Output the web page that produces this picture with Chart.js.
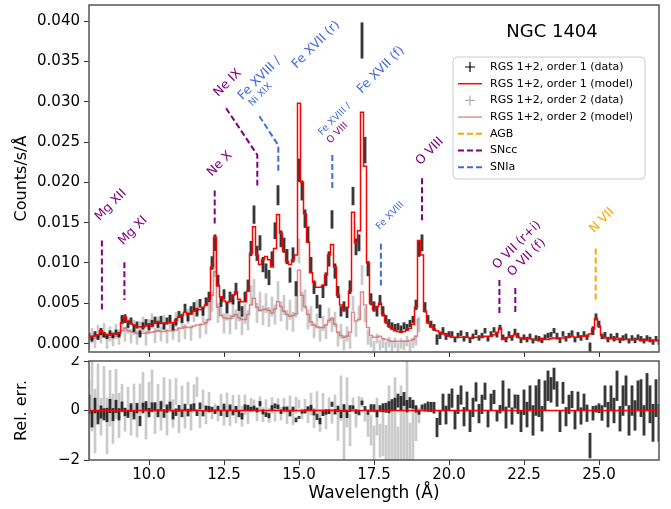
<!DOCTYPE html>
<html>
<head>
<meta charset="utf-8">
<script src="https://cdn.jsdelivr.net/npm/chart.js@4.4.1/dist/chart.umd.min.js"></script>
<style>
  body { margin: 0; background: #fff; }
  #wrap { position: relative; width: 671px; height: 509px; }
  canvas { position: absolute; left: 0; }
</style>
</head>
<body>
<div id="wrap">
  <canvas id="spec" width="671" height="358" style="top:0;width:671px;height:358px"></canvas>
  <canvas id="resid" width="671" height="153" style="top:356px;width:671px;height:153px"></canvas>
</div>
<script>
// RGS spectrum of NGC 1404, bins of 0.1 A starting at 8.0 A
const waveStart = 8.0;
const waveStep = 0.1;

// order 1 model (counts/s/A)
const model1 = [
  0.0008, 0.0009, 0.0010, 0.0011, 0.0016, 0.0013, 0.0011, 0.0011, 0.0012, 0.0012,
  0.0013, 0.0026, 0.0033, 0.0028, 0.0025, 0.0023, 0.0021, 0.0021, 0.0020, 0.0022,
  0.0023, 0.0022, 0.0025, 0.0027, 0.0025, 0.0025, 0.0026, 0.0026, 0.0026, 0.0029,
  0.0033, 0.0035, 0.0039, 0.0036, 0.0037, 0.0040, 0.0043, 0.0042, 0.0045, 0.0048,
  0.0055, 0.0095, 0.0132, 0.0072, 0.0058, 0.0053, 0.0051, 0.0052, 0.0060, 0.0064,
  0.0055, 0.0052, 0.0052, 0.0065, 0.0112, 0.0145, 0.0110, 0.0098, 0.0104, 0.0108,
  0.0104, 0.0095, 0.0118, 0.0160, 0.0137, 0.0115, 0.0102, 0.0098, 0.0104, 0.0110,
  0.0298, 0.0200, 0.0161, 0.0126, 0.0088, 0.0076, 0.0070, 0.0070, 0.0072, 0.0085,
  0.0110, 0.0123, 0.0095, 0.0060, 0.0048, 0.0042, 0.0045, 0.0065, 0.0163, 0.0125,
  0.0140, 0.0287, 0.0220, 0.0100, 0.0050, 0.0042, 0.0046, 0.0050, 0.0036, 0.0027,
  0.0022, 0.0018, 0.0016, 0.0015, 0.0014, 0.0015, 0.0017, 0.0019, 0.0024, 0.0045,
  0.0128, 0.0110, 0.0040, 0.0026, 0.0021, 0.0018, 0.0016, 0.0014, 0.0012, 0.0011,
  0.0009, 0.0008, 0.0008, 0.0008, 0.0008, 0.0008, 0.0008, 0.0007, 0.0008, 0.0008,
  0.0008, 0.0008, 0.0009, 0.0009, 0.0009, 0.0011, 0.0014, 0.0019, 0.0005, 0.0007,
  0.0008, 0.0009, 0.0011, 0.0008, 0.0007, 0.0006, 0.0006, 0.0006, 0.0005, 0.0005,
  0.0004, 0.0006, 0.0005, 0.0005, 0.0006, 0.0007, 0.0006, 0.0007, 0.0007, 0.0008,
  0.0008, 0.0009, 0.0008, 0.0008, 0.0009, 0.0009, 0.0009, 0.0012, 0.0018, 0.0031,
  0.0022, 0.0010, 0.0007, 0.0006, 0.0006, 0.0006, 0.0005, 0.0006, 0.0005, 0.0005,
  0.0005, 0.0005, 0.0005, 0.0005, 0.0004, 0.0005, 0.0004, 0.0004, 0.0004, 0.0004, 0.0004
];

// order 1 data and 1-sigma errors
const data1 = [
  0.0010, 0.0006, 0.0012, 0.0008, 0.0015, 0.0011, 0.0009, 0.0013, 0.0010, 0.0014,
  0.0011, 0.0030, 0.0031, 0.0024, 0.0028, 0.0019, 0.0023, 0.0012, 0.0022, 0.0026,
  0.0021, 0.0025, 0.0029, 0.0024, 0.0030, 0.0022, 0.0028, 0.0031, 0.0021, 0.0027,
  0.0036, 0.0031, 0.0044, 0.0033, 0.0041, 0.0046, 0.0039, 0.0050, 0.0040, 0.0052,
  0.0058, 0.0100, 0.0125, 0.0078, 0.0052, 0.0061, 0.0044, 0.0058, 0.0055, 0.0068,
  0.0047, 0.0040, 0.0058, 0.0072, 0.0118, 0.0160, 0.0112, 0.0125, 0.0098, 0.0090,
  0.0082, 0.0105, 0.0140, 0.0184, 0.0130, 0.0122, 0.0108, 0.0085, 0.0110, 0.0068,
  0.0215, 0.0190, 0.0155, 0.0135, 0.0098, 0.0070, 0.0052, 0.0040, 0.0065, 0.0080,
  0.0105, 0.0154, 0.0090, 0.0064, 0.0040, 0.0046, 0.0038, 0.0070, 0.0183, 0.0120,
  0.0125, 0.0376, 0.0240, 0.0093, 0.0055, 0.0046, 0.0040, 0.0054, 0.0040, 0.0030,
  0.0025, 0.0022, 0.0020, 0.0021, 0.0018, 0.0022, 0.0020, 0.0025, 0.0030, 0.0048,
  0.0118, 0.0125, 0.0045, 0.0030, 0.0024, 0.0020, 0.0005, 0.0010, 0.0016, 0.0009,
  0.0012, 0.0012, 0.0005, 0.0010, 0.0013, 0.0006, 0.0011, 0.0004, 0.0009, 0.0014,
  0.0007, 0.0010, 0.0016, 0.0006, 0.0012, 0.0017, 0.0011, 0.0020, 0.0008, 0.0005,
  0.0012, 0.0007, 0.0015, 0.0010, 0.0004, 0.0008, 0.0005, 0.0009, 0.0003, 0.0007,
  0.0006, 0.0004, 0.0008, 0.0010, 0.0011, 0.0016, 0.0010, 0.0004, 0.0012, 0.0006,
  0.0010, 0.0013, 0.0005, 0.0011, 0.0007, 0.0012, 0.0008, -0.0005, 0.0016, 0.0033,
  0.0024, 0.0009, 0.0011, 0.0005, 0.0009, 0.0006, 0.0010, 0.0004, 0.0007, 0.0009,
  0.0003, 0.0007, 0.0004, 0.0008, 0.0006, 0.0003, 0.0007, 0.0005, 0.0002, 0.0006, 0.0002
];
const err1 = [
  0.0003, 0.0003, 0.0003, 0.0003, 0.0004, 0.0003, 0.0003, 0.0003, 0.0003, 0.0003,
  0.0003, 0.0005, 0.0005, 0.0004, 0.0004, 0.0004, 0.0004, 0.0004, 0.0004, 0.0004,
  0.0004, 0.0004, 0.0004, 0.0004, 0.0004, 0.0004, 0.0004, 0.0004, 0.0004, 0.0004,
  0.0004, 0.0005, 0.0005, 0.0005, 0.0005, 0.0005, 0.0005, 0.0005, 0.0005, 0.0005,
  0.0006, 0.0008, 0.0010, 0.0007, 0.0006, 0.0006, 0.0006, 0.0006, 0.0006, 0.0007,
  0.0006, 0.0006, 0.0006, 0.0007, 0.0009, 0.0011, 0.0009, 0.0009, 0.0009, 0.0009,
  0.0009, 0.0009, 0.0010, 0.0012, 0.0010, 0.0009, 0.0009, 0.0009, 0.0009, 0.0009,
  0.0014, 0.0012, 0.0011, 0.0010, 0.0009, 0.0008, 0.0008, 0.0008, 0.0008, 0.0008,
  0.0009, 0.0011, 0.0009, 0.0007, 0.0006, 0.0006, 0.0006, 0.0008, 0.0011, 0.0010,
  0.0010, 0.0022, 0.0016, 0.0009, 0.0007, 0.0006, 0.0006, 0.0006, 0.0006, 0.0005,
  0.0005, 0.0004, 0.0004, 0.0004, 0.0004, 0.0004, 0.0004, 0.0004, 0.0004, 0.0006,
  0.0010, 0.0010, 0.0006, 0.0005, 0.0004, 0.0004, 0.0006, 0.0004, 0.0004, 0.0004,
  0.0003, 0.0003, 0.0003, 0.0003, 0.0003, 0.0003, 0.0003, 0.0003, 0.0003, 0.0003,
  0.0003, 0.0003, 0.0003, 0.0003, 0.0003, 0.0003, 0.0003, 0.0003, 0.0003, 0.0003,
  0.0003, 0.0003, 0.0003, 0.0003, 0.0003, 0.0003, 0.0003, 0.0003, 0.0003, 0.0003,
  0.0003, 0.0003, 0.0003, 0.0003, 0.0003, 0.0003, 0.0003, 0.0003, 0.0003, 0.0003,
  0.0003, 0.0003, 0.0003, 0.0003, 0.0003, 0.0003, 0.0003, 0.0006, 0.0005, 0.0004,
  0.0004, 0.0003, 0.0003, 0.0003, 0.0003, 0.0003, 0.0003, 0.0003, 0.0003, 0.0003,
  0.0003, 0.0003, 0.0003, 0.0003, 0.0003, 0.0003, 0.0003, 0.0003, 0.0003, 0.0003, 0.0003
];

// order 2 (8.0 - 19.0 A)
const model2 = [
  0.0005, 0.0006, 0.0007, 0.0008, 0.0012, 0.0009, 0.0008, 0.0008, 0.0009, 0.0009,
  0.0010, 0.0016, 0.0019, 0.0016, 0.0015, 0.0014, 0.0013, 0.0013, 0.0013, 0.0013,
  0.0014, 0.0014, 0.0015, 0.0016, 0.0015, 0.0015, 0.0016, 0.0016, 0.0016, 0.0017,
  0.0019, 0.0019, 0.0021, 0.0020, 0.0020, 0.0022, 0.0023, 0.0023, 0.0024, 0.0026,
  0.0030, 0.0060, 0.0089, 0.0045, 0.0035, 0.0032, 0.0031, 0.0031, 0.0034, 0.0036,
  0.0032, 0.0030, 0.0030, 0.0036, 0.0048, 0.0056, 0.0045, 0.0041, 0.0042, 0.0043,
  0.0041, 0.0038, 0.0043, 0.0052, 0.0046, 0.0040, 0.0036, 0.0034, 0.0035, 0.0037,
  0.0091, 0.0060, 0.0046, 0.0036, 0.0027, 0.0023, 0.0021, 0.0020, 0.0020, 0.0023,
  0.0029, 0.0031, 0.0024, 0.0014, 0.0010, 0.0008, 0.0009, 0.0014, 0.0039, 0.0028,
  0.0030, 0.0064, 0.0048, 0.0020, 0.0010, 0.0008, 0.0008, 0.0009, 0.0006, 0.0005,
  0.0004, 0.0003, 0.0003, 0.0003, 0.0003, 0.0003, 0.0003, 0.0004, 0.0005, 0.0009, 0.0030
];
const data2 = [
  0.0002, 0.0010, 0.0004, 0.0014, 0.0009, 0.0016, 0.0003, 0.0012, 0.0006, 0.0015,
  0.0008, 0.0024, 0.0012, 0.0022, 0.0009, 0.0020, 0.0008, 0.0018, 0.0024, 0.0007,
  0.0021, 0.0028, 0.0010, 0.0024, 0.0012, 0.0026, 0.0009, 0.0027, 0.0014, 0.0030,
  0.0011, 0.0029, 0.0015, 0.0034, 0.0013, 0.0036, 0.0045, 0.0016, 0.0035, 0.0021,
  0.0040, 0.0052, 0.0098, 0.0038, 0.0046, 0.0025, 0.0041, 0.0024, 0.0043, 0.0030,
  0.0040, 0.0023, 0.0037, 0.0029, 0.0060, 0.0068, 0.0038, 0.0052, 0.0035, 0.0050,
  0.0033, 0.0046, 0.0036, 0.0065, 0.0040, 0.0048, 0.0029, 0.0042, 0.0027, 0.0045,
  0.0115, 0.0052, 0.0055, 0.0030, 0.0034, 0.0016, 0.0028, 0.0012, 0.0025, 0.0015,
  0.0035, 0.0024, 0.0030, 0.0006, 0.0015, 0.0001, 0.0012, 0.0003, 0.0050, 0.0018,
  0.0038, 0.0085, 0.0036, 0.0008, 0.0002, -0.0003, 0.0006, -0.0002, 0.0001, -0.0004,
  0.0002, -0.0003, 0.0001, -0.0005, 0.0000, -0.0002, 0.0003, -0.0004, 0.0001, 0.0004, 0.0024
];
const err2 = [
  0.0009, 0.0009, 0.0009, 0.0009, 0.0009, 0.0009, 0.0009, 0.0009, 0.0009, 0.0009,
  0.0009, 0.0009, 0.0009, 0.0009, 0.0009, 0.0009, 0.0009, 0.0009, 0.0009, 0.0009,
  0.0009, 0.0009, 0.0009, 0.0009, 0.0009, 0.0009, 0.0009, 0.0009, 0.0009, 0.0009,
  0.0009, 0.0009, 0.0009, 0.0009, 0.0009, 0.0009, 0.0009, 0.0009, 0.0009, 0.0009,
  0.0012, 0.0012, 0.0015, 0.0012, 0.0012, 0.0012, 0.0012, 0.0012, 0.0012, 0.0012,
  0.0012, 0.0012, 0.0012, 0.0012, 0.0012, 0.0012, 0.0012, 0.0012, 0.0012, 0.0012,
  0.0012, 0.0012, 0.0012, 0.0012, 0.0012, 0.0012, 0.0012, 0.0012, 0.0012, 0.0012,
  0.0015, 0.0012, 0.0012, 0.0012, 0.0012, 0.0009, 0.0009, 0.0009, 0.0009, 0.0009,
  0.0009, 0.0009, 0.0009, 0.0009, 0.0009, 0.0009, 0.0009, 0.0009, 0.0009, 0.0009,
  0.0009, 0.0012, 0.0009, 0.0009, 0.0006, 0.0006, 0.0006, 0.0006, 0.0006, 0.0006,
  0.0006, 0.0006, 0.0006, 0.0006, 0.0006, 0.0006, 0.0006, 0.0006, 0.0006, 0.0006, 0.0009
];

// line identifications
const markerWave = [8.43, 9.18, 12.19, 13.61, 14.31, 16.11, 17.73, 19.10, 21.68, 22.21, 24.89];
const markerLow  = [0.0041, 0.0054, 0.0149, 0.0196, 0.0213, 0.0192, 0.0072, 0.0153, 0.0037, 0.0037, 0.0054];
const markerHigh = [0.0128, 0.0101, 0.0190, 0.0234, 0.0246, 0.0234, 0.0124, 0.0205, 0.0079, 0.0069, 0.0118];
const markerKind = ['SNcc', 'SNcc', 'SNcc', 'SNcc', 'SNIa', 'SNIa', 'SNIa', 'SNcc', 'SNcc', 'SNcc', 'AGB'];
// leader lines from shifted labels (Ne IX, Fe XVIII / Ni XIX)
const leaderOf   = [3, 4];
const leaderWave = [12.57, 13.68];
const leaderTop  = [0.0292, 0.0282];

const lineLabels = [
  { text: 'Mg XII', wave: 8.35, y: 0.0152, kind: 'SNcc', small: false },
  { text: 'Mg XI', wave: 9.13, y: 0.0122, kind: 'SNcc', small: false },
  { text: 'Ne X', wave: 12.09, y: 0.0207, kind: 'SNcc', small: false },
  { text: 'Ne IX', wave: 12.31, y: 0.0306, kind: 'SNcc', small: false },
  { text: 'Fe XVIII /', wave: 13.12, y: 0.0302, kind: 'SNIa', small: false },
  { text: 'Ni XIX', wave: 13.44, y: 0.0294, kind: 'SNIa', small: true },
  { text: 'Fe XVII (r)', wave: 14.92, y: 0.0341, kind: 'SNIa', small: false },
  { text: 'Fe XVIII /', wave: 15.76, y: 0.0258, kind: 'SNIa', small: true },
  { text: 'O VIII', wave: 16.04, y: 0.0248, kind: 'SNcc', small: true },
  { text: 'Fe XVII (f)', wave: 17.09, y: 0.0310, kind: 'SNIa', small: false },
  { text: 'Fe XVIII', wave: 17.68, y: 0.0141, kind: 'SNIa', small: true },
  { text: 'O VIII', wave: 19.04, y: 0.0221, kind: 'SNcc', small: false },
  { text: 'O VII (r+i)', wave: 21.60, y: 0.0092, kind: 'SNcc', small: false },
  { text: 'O VII (f)', wave: 22.10, y: 0.0083, kind: 'SNcc', small: false },
  { text: 'N VII', wave: 24.83, y: 0.0137, kind: 'AGB', small: false }
];

const xTicks = [10.0, 12.5, 15.0, 17.5, 20.0, 22.5, 25.0];

const kindColor = { AGB: '#ffa500', SNcc: '#800080', SNIa: '#4169e1' };
const FONT = 'DejaVu Sans';
Chart.defaults.font.family = FONT;
Chart.defaults.color = '#000';

const wave1 = model1.map((_, i) => +(waveStart + i * waveStep).toFixed(1));
const wave2 = model2.map((_, i) => +(waveStart + i * waveStep).toFixed(1));

function errorBars(waves, vals, errs) {
  return vals.map((v, i) => ({ x: waves[i], y: [v - errs[i], v + errs[i]] }));
}
function points(waves, vals) {
  return vals.map((v, i) => ({ x: waves[i], y: v }));
}

// relative residuals (data - model) / model
const res1 = data1.map((d, i) => (d - model1[i]) / model1[i]);
const resErr1 = err1.map((e, i) => e / model1[i]);
const res2 = data2.map((d, i) => (d - model2[i]) / model2[i]);
const resErr2 = err2.map((e, i) => e / model2[i]);

const framePlugin = {
  id: 'frame',
  afterDatasetsDraw(chart) {
    const { ctx, chartArea: a } = chart;
    ctx.save();
    ctx.strokeStyle = '#555';
    ctx.lineWidth = 1.5;
    ctx.strokeRect(a.left, a.top, a.width, a.height);
    ctx.restore();
  }
};

const labelPlugin = {
  id: 'lineLabels',
  afterDatasetsDraw(chart) {
    const { ctx, scales } = chart;
    ctx.save();
    lineLabels.forEach(l => {
      const px = scales.x.getPixelForValue(l.wave);
      const py = scales.y.getPixelForValue(l.y);
      ctx.save();
      ctx.translate(px, py);
      ctx.rotate(-Math.PI / 4);
      ctx.font = (l.small ? 9.5 : 12.5) + 'px ' + FONT;
      ctx.fillStyle = kindColor[l.kind];
      ctx.textAlign = 'left';
      ctx.textBaseline = 'alphabetic';
      ctx.fillText(l.text, 0, 0);
      ctx.restore();
    });
    ctx.restore();
  }
};

const legendItems = [
  { text: 'RGS 1+2, order 1 (data)', type: 'plus', color: '#000' },
  { text: 'RGS 1+2, order 1 (model)', type: 'line', color: '#ff0000' },
  { text: 'RGS 1+2, order 2 (data)', type: 'plus', color: '#b0b0b0' },
  { text: 'RGS 1+2, order 2 (model)', type: 'line', color: '#e09090' },
  { text: 'AGB', type: 'dash', color: kindColor.AGB },
  { text: 'SNcc', type: 'dash', color: kindColor.SNcc },
  { text: 'SNIa', type: 'dash', color: kindColor.SNIa }
];

const legendPlugin = {
  id: 'boxLegend',
  afterDraw(chart) {
    const { ctx, chartArea: a } = chart;
    const right = a.right - 14, top = a.top + 52, w = 192, h = 122;
    const left = right - w;
    ctx.save();
    ctx.beginPath();
    ctx.roundRect(left, top, w, h, 4);
    ctx.fillStyle = 'rgba(255,255,255,0.8)';
    ctx.fill();
    ctx.strokeStyle = '#cccccc';
    ctx.lineWidth = 1;
    ctx.stroke();
    ctx.font = '11px ' + FONT;
    ctx.textBaseline = 'middle';
    legendItems.forEach((it, i) => {
      const y = top + 10 + i * 16.7;
      const hx = left + 5;
      ctx.strokeStyle = it.color;
      if (it.type === 'plus') {
        ctx.lineWidth = 1.2;
        ctx.beginPath();
        ctx.moveTo(hx + 12, y - 5); ctx.lineTo(hx + 12, y + 5);
        ctx.moveTo(hx + 7, y); ctx.lineTo(hx + 17, y);
        ctx.stroke();
      } else {
        ctx.lineWidth = it.type === 'dash' ? 2 : 1.5;
        ctx.setLineDash(it.type === 'dash' ? [6, 3] : []);
        ctx.beginPath();
        ctx.moveTo(hx, y); ctx.lineTo(hx + 24, y);
        ctx.stroke();
        ctx.setLineDash([]);
      }
      ctx.fillStyle = '#000';
      ctx.fillText(it.text, left + 37, y);
    });
    ctx.font = '18px ' + FONT;
    ctx.textAlign = 'center';
    ctx.fillText('NGC 1404', a.right - 107, a.top + 27);
    ctx.restore();
  }
};

function xAxis(showLabels, height) {
  return {
    type: 'linear', min: 8, max: 27, offset: false,
    afterBuildTicks(scale) { scale.ticks = xTicks.map(v => ({ value: v })); },
    ticks: { display: showLabels, padding: 1, font: { size: 15 }, maxRotation: 0,
             callback: v => v.toFixed(1) },
    grid: { drawOnChartArea: false, tickLength: 5, color: '#333', offset: false },
    border: { display: false },
    title: { display: showLabels, text: 'Wavelength (Å)', font: { size: 17 }, padding: { top: 0, bottom: 5 } },
    afterFit(scale) { scale.height = height; scale.paddingLeft = 0; scale.paddingRight = 0; }
  };
}

function yAxisFit(scale) {
  scale.width = 89;
  scale.paddingTop = 0;
  scale.paddingBottom = 0;
}

const markerSets = markerWave.map((w, i) => {
  const pts = [{ x: w, y: markerHigh[i] }, { x: w, y: markerLow[i] }];
  const li = leaderOf.indexOf(i);
  if (li >= 0) pts.unshift({ x: leaderWave[li], y: leaderTop[li] });
  return {
    type: 'line', data: pts, borderColor: kindColor[markerKind[i]],
    borderWidth: 2, borderDash: [6, 3], pointRadius: 0, order: 0
  };
});

new Chart(document.getElementById('spec'), {
  type: 'line',
  data: {
    datasets: [
      { type: 'bar', data: errorBars(wave2, data2, err2), backgroundColor: 'rgba(150,150,150,0.5)',
        barThickness: 2, grouped: false, order: 4 },
      { type: 'line', data: points(wave2, model2), borderColor: 'rgba(210,100,100,0.75)', borderWidth: 1.5,
        stepped: 'middle', pointRadius: 0, order: 3 },
      { type: 'bar', data: errorBars(wave1, data1, err1), backgroundColor: 'rgba(0,0,0,0.78)',
        barThickness: 2.2, grouped: false, order: 2 },
      { type: 'line', data: points(wave1, model1), borderColor: '#ff0000', borderWidth: 1.5,
        stepped: 'middle', pointRadius: 0, order: 1 },
      ...markerSets
    ]
  },
  options: {
    responsive: false,
    animation: false,
    events: [],
    layout: { padding: { top: 5, right: 12, left: 0, bottom: 0 } },
    plugins: { legend: { display: false }, tooltip: { enabled: false } },
    scales: {
      x: xAxis(false, 6),
      y: {
        min: -0.00104, max: 0.0420,
        ticks: { stepSize: 0.005, includeBounds: false, padding: 4, font: { size: 15 },
                 callback: v => v.toFixed(3) },
        grid: { drawOnChartArea: false, tickLength: 5, color: '#333' },
        border: { display: false },
        title: { display: true, text: 'Counts/s/Å', font: { size: 16 }, padding: { top: 12, bottom: 0 } },
        afterFit: yAxisFit
      }
    }
  },
  plugins: [framePlugin, labelPlugin, legendPlugin]
});

new Chart(document.getElementById('resid'), {
  type: 'line',
  data: {
    datasets: [
      { type: 'bar', data: errorBars(wave2, res2, resErr2), backgroundColor: 'rgba(150,150,150,0.5)',
        barThickness: 2, grouped: false, order: 3 },
      { type: 'bar', data: errorBars(wave1, res1, resErr1), backgroundColor: 'rgba(0,0,0,0.78)',
        barThickness: 2.2, grouped: false, order: 2 },
      { type: 'line', data: [{ x: 8, y: 0 }, { x: 27, y: 0 }], borderColor: '#ff0000', borderWidth: 1.5,
        pointRadius: 0, order: 1 }
    ]
  },
  options: {
    responsive: false,
    animation: false,
    events: [],
    layout: { padding: { top: 5, right: 12, left: 0, bottom: 0 } },
    plugins: { legend: { display: false }, tooltip: { enabled: false } },
    scales: {
      x: xAxis(true, 49),
      y: {
        min: -2, max: 2,
        ticks: { stepSize: 2, padding: 4, font: { size: 15 },
                 callback: v => (v < 0 ? '\u2212' + Math.abs(v) : String(v)) },
        grid: { drawOnChartArea: false, tickLength: 5, color: '#333' },
        border: { display: false },
        title: { display: true, text: 'Rel. err.', font: { size: 16 }, padding: { top: 12, bottom: 0 } },
        afterFit: yAxisFit
      }
    }
  },
  plugins: [framePlugin]
});
</script>
</body>
</html>
